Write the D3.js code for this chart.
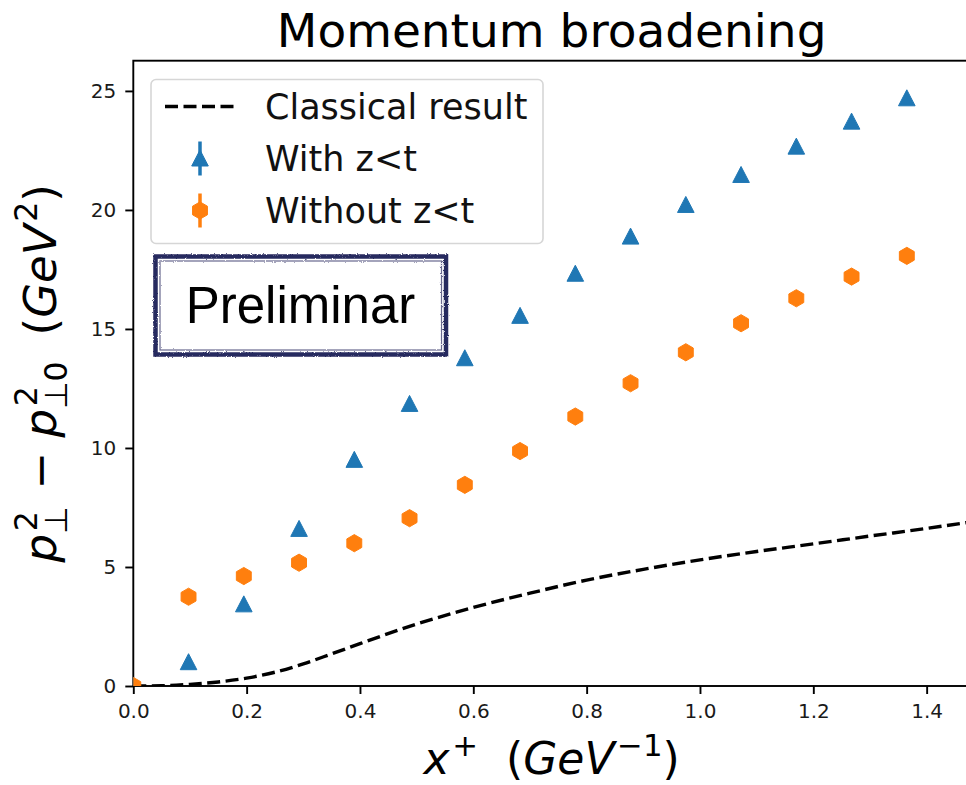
<!DOCTYPE html>
<html>
<head>
<meta charset="utf-8">
<script src="https://cdn.jsdelivr.net/npm/d3@7"></script>
<style>
  body { margin: 0; background: #fff; }
  text { font-family: "DejaVu Sans", sans-serif; }
</style>
</head>
<body>
<div id="chart"></div>
<script>
// values
const xPoints = [0, 0.0975, 0.195, 0.2925, 0.39, 0.4875, 0.585, 0.6825, 0.78, 0.8775, 0.975, 1.0725, 1.17, 1.2675, 1.365];
const withZt = [0, 1.0, 3.43, 6.6, 9.5, 11.85, 13.77, 15.55, 17.32, 18.88, 20.21, 21.47, 22.66, 23.71, 24.69];
const withoutZt = [0, 3.75, 4.62, 5.18, 6.0, 7.05, 8.45, 9.87, 11.32, 12.72, 14.02, 15.24, 16.29, 17.2, 18.07];
const classX = [0, 0.05, 0.1, 0.15, 0.2, 0.25, 0.3, 0.35, 0.4, 0.5, 0.6, 0.7, 0.8, 0.9, 1.0, 1.1, 1.2, 1.3, 1.4, 1.48];
const classY = [0, 0.01, 0.07, 0.17, 0.33, 0.58, 0.93, 1.35, 1.78, 2.6, 3.3, 3.9, 4.45, 4.9, 5.3, 5.65, 5.97, 6.3, 6.62, 6.9];
const xTicks = [0, 0.2, 0.4, 0.6, 0.8, 1.0, 1.2, 1.4];
const yTicks = [0, 5, 10, 15, 20, 25];
const legendLabels = ["Classical result", "With z<t", "Without z<t"];

const W = 966, H = 785;
const margin = { top: 60.7, right: -4, bottom: 99, left: 133.3 };
const width = W - margin.left - margin.right,
  height = H - margin.top - margin.bottom;

const blue = "#1f77b4", orange = "#ff7f0e";

let svg = d3.select("#chart").append("svg")
  .attr("width", W).attr("height", H);

let defs = svg.append("defs");
defs.append("clipPath").attr("id", "clip")
  .append("rect").attr("width", width).attr("height", height);

// rough stamp look for the "Preliminar" frame
let rough = defs.append("filter").attr("id", "rough")
  .attr("x", "-5%").attr("y", "-10%").attr("width", "110%").attr("height", "120%");
rough.append("feTurbulence").attr("type", "fractalNoise")
  .attr("baseFrequency", "0.9").attr("numOctaves", 2).attr("seed", 3).attr("result", "noise");
rough.append("feDisplacementMap").attr("in", "SourceGraphic").attr("in2", "noise")
  .attr("scale", 2.5).attr("xChannelSelector", "R").attr("yChannelSelector", "G");

let g = svg.append("g")
  .attr("transform", "translate(" + margin.left + "," + margin.top + ")");

let x = d3.scaleLinear().domain([0, 1.4765]).range([0, width]);
let y = d3.scaleLinear().domain([0, 26.27]).range([height, 0]);

// axes
let xAxis = g.append("g")
  .attr("transform", "translate(0," + height + ")")
  .call(d3.axisBottom(x).tickValues(xTicks).tickFormat(d3.format(".1f")).tickSize(8).tickPadding(10));
let yAxis = g.append("g")
  .call(d3.axisLeft(y).tickValues(yTicks).tickSize(8).tickPadding(9));
[xAxis, yAxis].forEach(a => {
  a.select(".domain").remove();
  a.selectAll(".tick line").attr("stroke", "#000").attr("stroke-width", 1.9);
  a.selectAll(".tick text").attr("fill", "#1a1a1a").style("font-size", "20px")
    .style("font-family", "DejaVu Sans");
});

// spines
g.append("rect").attr("width", width).attr("height", height)
  .attr("fill", "none").attr("stroke", "#000").attr("stroke-width", 1.9);

let plot = g.append("g").attr("clip-path", "url(#clip)");

let line = d3.line()
  .x(d => x(d[0])).y(d => y(d[1]))
  .curve(d3.curveMonotoneX);
plot.append("path")
  .datum(classX.map((v, i) => [v, classY[i]]))
  .attr("d", line)
  .attr("fill", "none").attr("stroke", "#000")
  .attr("stroke-width", 3.4).attr("stroke-dasharray", "13,5.5");

const triPath = "M0,-8.5L8.3,7.5L-8.3,7.5Z";
const hexPath = d3.range(6).map(i => {
  const a = Math.PI / 3 * i - Math.PI / 2;
  return [8.6 * Math.cos(a), 8.6 * Math.sin(a)];
});
const hexD = "M" + hexPath.map(p => p.join(",")).join("L") + "Z";

plot.selectAll(".tri").data(withZt).enter().append("path")
  .attr("class", "tri")
  .attr("d", triPath)
  .attr("transform", (d, i) => "translate(" + x(xPoints[i]) + "," + y(d) + ")")
  .attr("fill", blue).attr("stroke", blue).attr("stroke-width", 1).attr("stroke-linejoin", "round");

plot.selectAll(".hex").data(withoutZt).enter().append("path")
  .attr("class", "hex")
  .attr("d", hexD)
  .attr("transform", (d, i) => "translate(" + x(xPoints[i]) + "," + y(d) + ")")
  .attr("fill", orange).attr("stroke", orange).attr("stroke-width", 1);

// legend
let leg = svg.append("g");
leg.append("rect").attr("x", 151).attr("y", 79.5).attr("width", 392).attr("height", 164)
  .attr("rx", 5).attr("fill", "#fff").attr("fill-opacity", 0.8)
  .attr("stroke", "#d6d6d6").attr("stroke-width", 1.6);
const rowY = [106.5, 158.5, 210.5];
leg.append("line").attr("x1", 165).attr("x2", 235).attr("y1", rowY[0]).attr("y2", rowY[0])
  .attr("stroke", "#000").attr("stroke-width", 3.4).attr("stroke-dasharray", "13,5.5");
leg.append("line").attr("x1", 200).attr("x2", 200).attr("y1", rowY[1] - 17).attr("y2", rowY[1] + 17)
  .attr("stroke", blue).attr("stroke-width", 3.5);
leg.append("path").attr("d", triPath).attr("transform", "translate(200," + rowY[1] + ")")
  .attr("fill", blue).attr("stroke", blue).attr("stroke-width", 1);
leg.append("line").attr("x1", 200).attr("x2", 200).attr("y1", rowY[2] - 17).attr("y2", rowY[2] + 17)
  .attr("stroke", orange).attr("stroke-width", 3.5);
leg.append("path").attr("d", hexD).attr("transform", "translate(200," + rowY[2] + ")")
  .attr("fill", orange).attr("stroke", orange).attr("stroke-width", 1);
leg.selectAll(".lt").data(legendLabels).enter().append("text")
  .attr("x", 265).attr("y", (d, i) => rowY[i] + 12.5)
  .style("font-size", "35px").attr("fill", "#111").text(d => d);

// "Preliminar" stamp
let stamp = svg.append("g");
stamp.append("rect").attr("x", 155.5).attr("y", 256.5).attr("width", 290.5).attr("height", 98)
  .attr("fill", "#fff").attr("stroke", "#272a5e").attr("stroke-width", 4.5)
  .attr("filter", "url(#rough)");
stamp.append("rect").attr("x", 160).attr("y", 261).attr("width", 281.5).attr("height", 89)
  .attr("fill", "none").attr("stroke", "#272a5e").attr("stroke-width", 1.2)
  .attr("stroke-opacity", 0.7).attr("filter", "url(#rough)");
stamp.append("text").attr("x", 300.5).attr("y", 323).attr("text-anchor", "middle")
  .style("font-family", "'Liberation Sans', Arial, sans-serif").style("font-size", "51px")
  .attr("fill", "#000").text("Preliminar");

// title
svg.append("text").attr("x", margin.left + width / 2).attr("y", 47)
  .attr("text-anchor", "middle").style("font-size", "47px").attr("fill", "#000")
  .text("Momentum broadening");

// mathtext-like labels
function mathText(sel, parts, size) {
  let cx = 0;
  parts.forEach(p => {
    let t = sel.append("text").attr("x", cx).attr("y", 0)
      .style("font-size", size + "px").style("font-style", p.it ? "italic" : "normal")
      .attr("fill", "#000").text(p.t);
    cx += t.node().getComputedTextLength() + (p.it && (p.sup || p.sub) ? size * 0.06 : 0);
    let w = 0;
    if (p.sup) {
      let s = sel.append("text").attr("x", cx).attr("y", -size * 0.42)
        .style("font-size", size * 0.7 + "px").attr("fill", "#000").text(p.sup);
      w = Math.max(w, s.node().getComputedTextLength());
    }
    if (p.sub) {
      let s = sel.append("text").attr("x", cx - (p.it ? size * 0.06 : 0)).attr("y", size * 0.24)
        .style("font-size", size * 0.7 + "px").attr("fill", "#000").text(p.sub);
      w = Math.max(w, s.node().getComputedTextLength());
    }
    cx += w;
  });
  return cx;
}

let xl = svg.append("g");
let xw = mathText(xl, [
  { t: "x", it: true, sup: "+" },
  { t: "\u00a0\u00a0(" },
  { t: "GeV", it: true, sup: "\u22121" },
  { t: ")" }
], 44);
xl.attr("transform", "translate(" + (margin.left + width / 2 - xw / 2) + ",774)");

let yl = svg.append("g");
let yw = mathText(yl, [
  { t: "p", it: true, sub: "\u22a5", sup: "2" },
  { t: "\u00a0\u2212\u00a0" },
  { t: "p", it: true, sub: "\u22a50", sup: "2" },
  { t: "\u00a0\u2009(" },
  { t: "GeV", it: true, sup: "2" },
  { t: ")" }
], 45);
yl.attr("transform", "translate(56," + (margin.top + height / 2) + ") rotate(-90) translate(" + (-yw / 2) + ",0)");
</script>
</body>
</html>
